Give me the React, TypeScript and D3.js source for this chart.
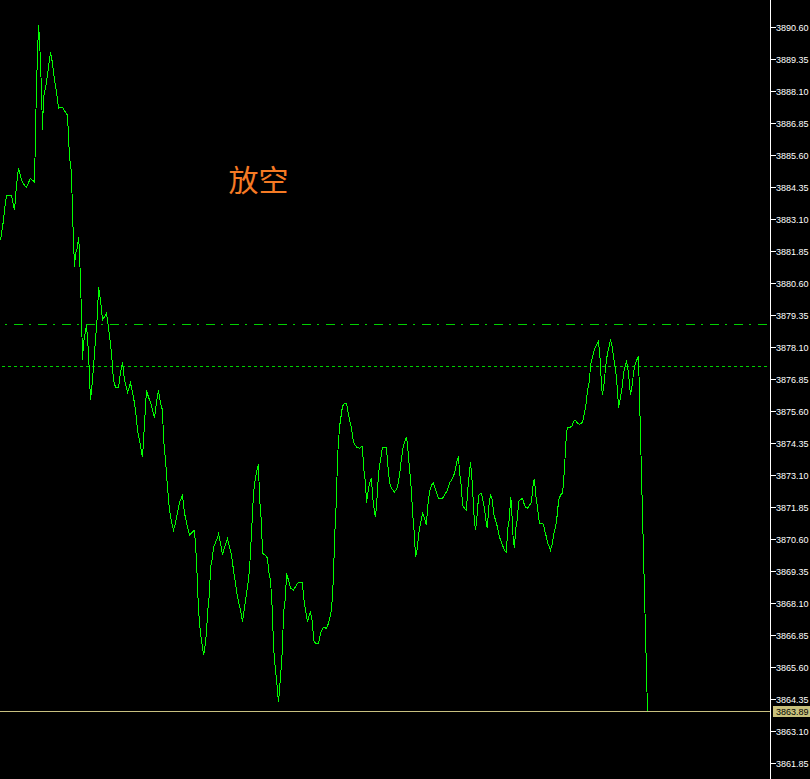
import React, { useRef, useEffect } from "react";
import * as d3 from "d3";

// price ticks on the right scale
const tickLabels = [
  "3890.60", "3889.35", "3888.10", "3886.85", "3885.60", "3884.35",
  "3883.10", "3881.85", "3880.60", "3879.35", "3878.10", "3876.85",
  "3875.60", "3874.35", "3873.10", "3871.85", "3870.60", "3869.35",
  "3868.10", "3866.85", "3865.60", "3864.35", "3863.10", "3861.85",
];

const lastPrice = 3863.89;
const dashDotLevel = 3879.0;
const dottedLevel = 3877.36;
const signalText = "放空";

// [time, price]
const priceTicks: [number, number][] = [
  [0, 3882.29], [3, 3883.07], [4, 3883.46], [6, 3884.05], [11, 3884.05], [14, 3883.46],
  [16, 3884.44], [18, 3885.1], [21, 3884.64], [24, 3884.44], [26, 3884.36], [30, 3884.71],
  [34, 3884.56], [36, 3888.35], [38, 3890.69], [39, 3890.18], [41, 3888.15], [42, 3886.59],
  [43, 3887.88], [46, 3888.46], [48, 3889.05], [50, 3889.64], [52, 3889.21], [54, 3888.54],
  [56, 3888.07], [58, 3887.45], [62, 3887.49], [65, 3887.29], [67, 3887.17], [69, 3885.53],
  [71, 3884.91], [72, 3883.35], [74, 3881.24], [75, 3881.78], [77, 3882.02], [78, 3882.41],
  [79, 3881.9], [80, 3880.61], [81, 3879.44], [82, 3877.6], [83, 3878.27], [86, 3878.97],
  [88, 3877.88], [90, 3876.04], [92, 3876.82], [94, 3877.88], [97, 3879.44], [98, 3880.46],
  [100, 3879.95], [102, 3879.17], [106, 3879.44], [108, 3878.89], [111, 3877.88], [113, 3876.82],
  [115, 3876.55], [118, 3876.55], [120, 3877.1], [122, 3877.53], [124, 3876.82], [127, 3876.35],
  [130, 3876.71], [133, 3876.16], [135, 3875.65], [137, 3874.87], [139, 3874.48], [142, 3873.81],
  [146, 3876.43], [148, 3876.16], [150, 3875.96], [154, 3875.34], [156, 3875.96], [158, 3876.43],
  [160, 3875.92], [162, 3875.65], [163, 3874.56], [165, 3873.7], [167, 3872.64], [169, 3871.74],
  [171, 3871.28], [173, 3870.96], [175, 3871.24], [177, 3871.67], [179, 3872.06], [182, 3872.33],
  [184, 3871.63], [187, 3871.08], [189, 3870.77], [192, 3870.89], [194, 3870.96], [196, 3869.79],
  [198, 3867.84], [200, 3866.94], [202, 3866.39], [203, 3866.08], [204, 3866.28], [206, 3866.94],
  [207, 3867.72], [209, 3868.5], [210, 3869.52], [212, 3869.91], [213, 3870.3], [216, 3870.57],
  [218, 3870.81], [220, 3870.46], [222, 3869.99], [224, 3870.3], [227, 3870.65], [228, 3870.46],
  [231, 3869.99], [233, 3869.4], [235, 3868.89], [237, 3868.35], [240, 3867.84], [242, 3867.37],
  [244, 3867.96], [247, 3868.74], [249, 3869.4], [251, 3870.85], [253, 3872.41], [255, 3873.03],
  [257, 3873.39], [258, 3873.54], [259, 3872.25], [261, 3871.24], [262, 3870.06], [265, 3869.99],
  [267, 3869.87], [268, 3869.4], [270, 3869.01], [272, 3867.72], [273, 3866.39], [275, 3865.49],
  [277, 3864.71], [278, 3864.24], [280, 3865.22], [282, 3866.39], [283, 3867.72], [285, 3868.35],
  [286, 3869.28], [288, 3869.01], [290, 3868.7], [293, 3868.62], [297, 3868.89], [299, 3868.93],
  [302, 3868.93], [303, 3868.35], [305, 3867.84], [307, 3867.37], [308, 3867.56], [310, 3867.76],
  [312, 3867.37], [313, 3866.67], [315, 3866.55], [318, 3866.55], [320, 3866.94], [323, 3867.17],
  [326, 3867.13], [328, 3867.33], [331, 3867.84], [333, 3869.13], [334, 3870.57], [336, 3872.25],
  [337, 3873.81], [339, 3874.99], [342, 3875.81], [344, 3875.92], [346, 3875.92], [348, 3875.46],
  [351, 3874.95], [353, 3874.4], [356, 3874.21], [359, 3874.17], [362, 3874.24], [363, 3873.42],
  [365, 3872.84], [366, 3872.02], [367, 3872.33], [369, 3872.8], [371, 3872.99], [372, 3872.33],
  [374, 3871.67], [375, 3871.47], [377, 3872.45], [378, 3873.19], [380, 3873.7], [382, 3874.21],
  [386, 3874.21], [387, 3873.62], [389, 3872.84], [391, 3872.6], [394, 3872.45], [397, 3872.64],
  [399, 3873.11], [401, 3873.77], [403, 3874.28], [406, 3874.6], [407, 3874.28], [409, 3873.39],
  [411, 3872.45], [412, 3871.67], [414, 3870.77], [415, 3869.91], [417, 3870.26], [418, 3870.77],
  [420, 3871.24], [422, 3871.63], [424, 3871.43], [426, 3871.16], [427, 3871.82], [429, 3872.45],
  [431, 3872.72], [433, 3872.8], [436, 3872.45], [438, 3872.21], [442, 3872.21], [444, 3872.33],
  [447, 3872.53], [449, 3872.8], [452, 3872.99], [454, 3873.19], [456, 3873.58], [458, 3873.85],
  [459, 3873.23], [461, 3872.6], [462, 3871.94], [464, 3871.82], [466, 3871.74], [467, 3872.45],
  [469, 3873.23], [470, 3873.62], [472, 3872.72], [473, 3871.82], [474, 3871.28], [475, 3870.96],
  [477, 3871.67], [478, 3872.33], [481, 3872.41], [484, 3871.82], [486, 3871.16], [487, 3871.04],
  [488, 3871.82], [490, 3872.33], [492, 3872.13], [493, 3871.63], [495, 3871.35], [497, 3871.08],
  [499, 3870.69], [502, 3870.38], [504, 3870.18], [506, 3870.1], [507, 3870.96], [509, 3871.43],
  [510, 3872.25], [511, 3872.02], [512, 3871.04], [513, 3870.49], [514, 3870.26], [515, 3870.96],
  [517, 3871.43], [518, 3872.06], [519, 3872.13], [522, 3872.21], [523, 3872.06], [525, 3871.86],
  [527, 3871.82], [529, 3871.94], [531, 3872.06], [532, 3872.53], [533, 3872.84], [534, 3872.96],
  [535, 3872.41], [537, 3871.86], [538, 3871.47], [539, 3871.24], [543, 3871.2], [544, 3870.96],
  [546, 3870.69], [547, 3870.46], [549, 3870.3], [550, 3870.18], [552, 3870.46], [553, 3870.77],
  [555, 3871.08], [557, 3871.63], [558, 3872.13], [560, 3872.33], [562, 3872.41], [563, 3872.8],
  [564, 3873.42], [565, 3874.09], [566, 3874.75], [567, 3874.99], [570, 3874.99], [572, 3875.06],
  [573, 3875.22], [575, 3875.26], [577, 3875.14], [579, 3875.1], [582, 3875.18], [583, 3875.38],
  [585, 3875.77], [586, 3876.04], [587, 3876.43], [589, 3876.82], [590, 3877.41], [592, 3877.72],
  [593, 3877.92], [595, 3878.11], [597, 3878.27], [598, 3878.35], [600, 3877.49], [601, 3876.55],
  [602, 3876.24], [604, 3876.82], [605, 3877.33], [607, 3877.88], [609, 3878.19], [610, 3878.42],
  [612, 3878.07], [613, 3877.72], [615, 3877.29], [617, 3876.43], [618, 3875.73], [620, 3876.16],
  [622, 3876.63], [623, 3877.1], [625, 3877.41], [626, 3877.6], [628, 3877.1], [629, 3876.63],
  [630, 3876.24], [632, 3876.71], [633, 3877.14], [635, 3877.49], [637, 3877.68], [638, 3877.76],
  [647, 3863.89],
];

function drawChart(el: SVGSVGElement, width: number, height: number) {
  const svg = d3.select(el);
  svg.selectAll("*").remove();

  const axisX = 770.5;

  svg.append("rect").attr("width", width).attr("height", height).attr("fill", "#000");

  const x = d3.scaleLinear().domain([0, 770]).range([0, 770]);
  const y = d3
    .scaleLinear()
    .domain([+tickLabels[tickLabels.length - 1], +tickLabels[0]])
    .range([763.5, 27.5]);

  const snap = (v: number) => Math.round(v - 0.5) + 0.5;

  // level lines
  svg
    .append("line")
    .attr("x1", 0)
    .attr("x2", axisX - 0.5)
    .attr("y1", snap(y(dashDotLevel)))
    .attr("y2", snap(y(dashDotLevel)))
    .attr("stroke", "#00d000")
    .attr("stroke-dasharray", "9 6 2 7")
    .attr("stroke-dashoffset", 10)
    .attr("shape-rendering", "crispEdges");

  svg
    .append("line")
    .attr("x1", 0)
    .attr("x2", axisX - 0.5)
    .attr("y1", snap(y(dottedLevel)))
    .attr("y2", snap(y(dottedLevel)))
    .attr("stroke", "#00d000")
    .attr("stroke-dasharray", "3 3")
    .attr("stroke-dashoffset", 4)
    .attr("shape-rendering", "crispEdges");

  // last price line
  svg
    .append("line")
    .attr("x1", 0)
    .attr("x2", axisX - 0.5)
    .attr("y1", snap(y(lastPrice)))
    .attr("y2", snap(y(lastPrice)))
    .attr("stroke", "#c8c080")
    .attr("shape-rendering", "crispEdges");

  // price line
  const line = d3
    .line<[number, number]>()
    .x((d) => x(d[0]) + 0.5)
    .y((d) => y(d[1]));
  svg
    .append("path")
    .datum(priceTicks)
    .attr("d", line)
    .attr("fill", "none")
    .attr("stroke", "#00ff00")
    .attr("stroke-width", 1)
    .attr("shape-rendering", "crispEdges");

  // right scale
  svg
    .append("line")
    .attr("x1", axisX)
    .attr("x2", axisX)
    .attr("y1", 0)
    .attr("y2", height)
    .attr("stroke", "#fff")
    .attr("shape-rendering", "crispEdges");

  const ticks = svg.append("g");
  tickLabels.forEach((label) => {
    const ty = snap(y(+label));
    ticks
      .append("line")
      .attr("x1", axisX)
      .attr("x2", axisX + 5)
      .attr("y1", ty)
      .attr("y2", ty)
      .attr("stroke", "#fff")
      .attr("shape-rendering", "crispEdges");
    ticks
      .append("text")
      .attr("x", 776)
      .attr("y", ty + 3.5)
      .attr("fill", "#fff")
      .style("font-family", "'Liberation Sans', Arial, sans-serif")
      .style("font-size", "9px")
      .text(label);
  });

  // last price badge
  const ly = snap(y(lastPrice));
  svg
    .append("rect")
    .attr("x", 773)
    .attr("y", ly - 5.5)
    .attr("width", 37)
    .attr("height", 11)
    .attr("fill", "#c8c07c");
  svg
    .append("text")
    .attr("x", 776)
    .attr("y", ly + 3.5)
    .attr("fill", "#000")
    .style("font-family", "'Liberation Sans', Arial, sans-serif")
    .style("font-size", "9px")
    .text(lastPrice.toFixed(2));

  // signal label
  svg
    .append("text")
    .attr("x", 258.5)
    .attr("y", 178)
    .attr("text-anchor", "middle")
    .attr("dominant-baseline", "central")
    .attr("fill", "#f57a24")
    .style("font-family", "'Noto Sans CJK SC', sans-serif")
    .style("font-size", "30px")
    .text(signalText);
}

const App: React.FunctionComponent = function () {
  const ref = useRef<SVGSVGElement>(null);
  const width = 810;
  const height = 779;

  useEffect(() => {
    if (ref.current == null) {
      return;
    }
    drawChart(ref.current, width, height);
  }, []);

  return (
    <div style={{ position: "fixed", left: 0, top: 0 }}>
      <svg ref={ref} width={width} height={height} style={{ display: "block" }}></svg>
    </div>
  );
};

export default App;
